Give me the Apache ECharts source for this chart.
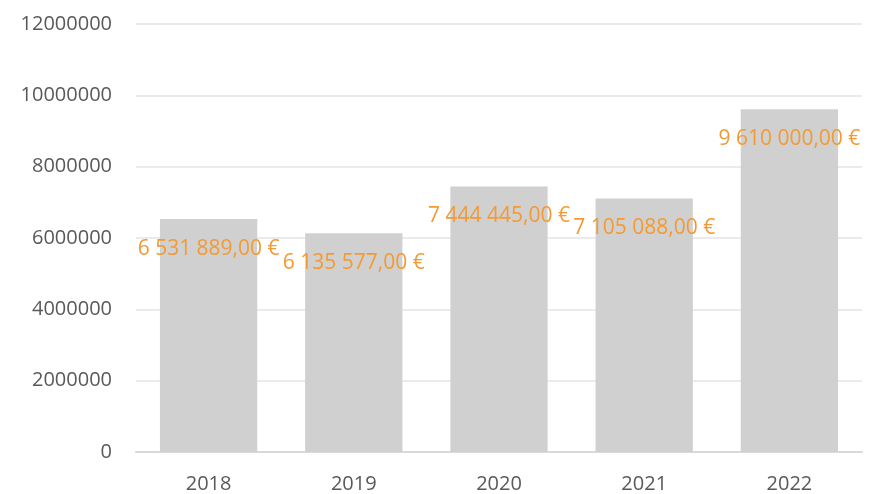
<!DOCTYPE html>
<html>
<head>
<meta charset="utf-8">
<script src="https://cdn.jsdelivr.net/npm/echarts@6/dist/echarts.min.js"></script>
<style>
  html, body { margin: 0; padding: 0; background: #fff; }
  #chart { width: 870px; height: 494px; }
</style>
</head>
<body>
<div id="chart"></div>
<script>
var years = ['2018', '2019', '2020', '2021', '2022'];
var amounts = [6531889, 6135577, 7444445, 7105088, 9610000];

function euro(v) {
    var s = v.toFixed(2).split('.');
    return s[0].replace(/\B(?=(\d{3})+(?!\d))/g, ' ') + ',' + s[1] + ' €';
}

var myChart = echarts.init(document.getElementById('chart'));
var option = {
    animation: false,
    grid: { left: 136, right: 8, top: 24, bottom: 39 },
    xAxis: {
        type: 'category',
        data: years,
        axisTick: { show: false },
        axisLine: { lineStyle: { color: '#d9d9d9', width: 2 } },
        axisLabel: { color: '#595959', fontSize: 20, fontFamily: 'Open Sans', margin: 22 }
    },
    yAxis: {
        type: 'value',
        min: 0,
        max: 12000000,
        interval: 2000000,
        axisLine: { show: false },
        axisTick: { show: false },
        splitLine: { lineStyle: { color: '#ebebeb', width: 2 } },
        axisLabel: {
            color: '#595959', fontSize: 20, fontFamily: 'Open Sans', margin: 24,
            formatter: function (v) { return String(v); }
        }
    },
    series: [{
        type: 'bar',
        data: amounts,
        barWidth: '67%',
        itemStyle: { color: '#d0d0d0' },
        label: {
            show: true,
            position: 'insideTop',
            distance: 19,
            color: '#f39a33',
            fontSize: 21,
            fontFamily: 'Open Sans',
            formatter: function (p) { return euro(p.value); }
        }
    }]
};
myChart.setOption(option);
</script>
</body>
</html>
